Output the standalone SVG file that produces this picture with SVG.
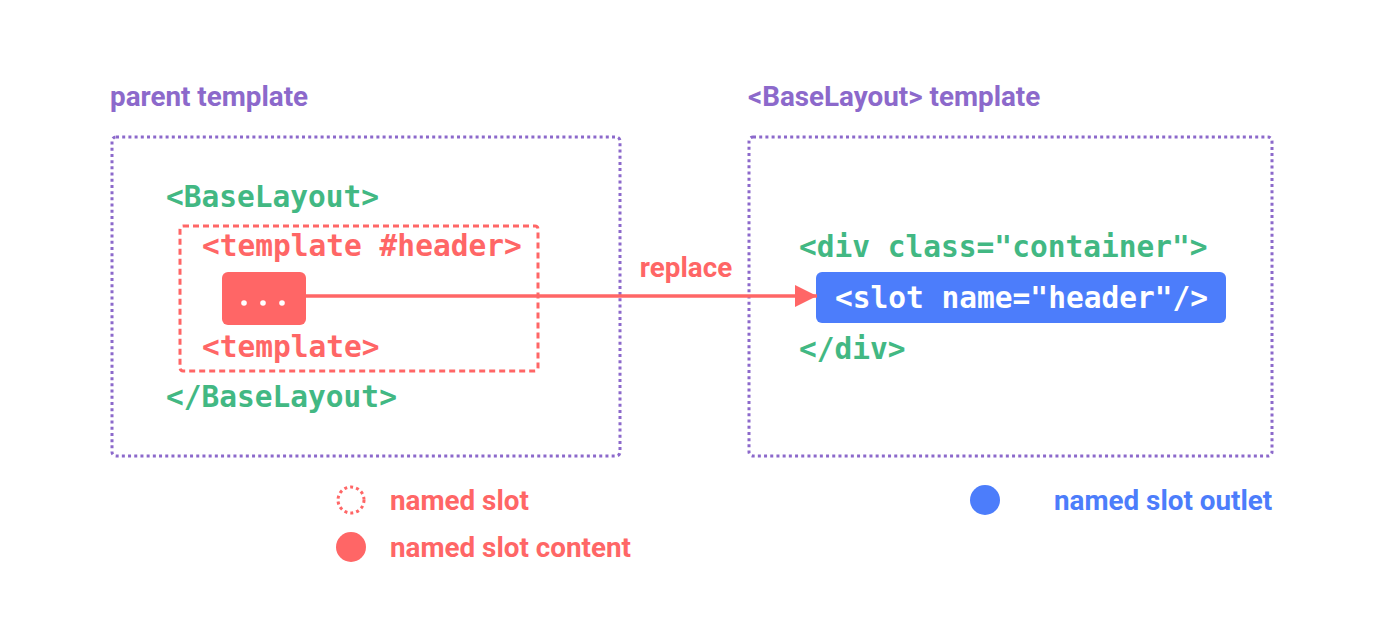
<svg xmlns="http://www.w3.org/2000/svg" width="1376" height="640" viewBox="0 0 1376 640">
<defs>
<style>
.title{font-family:Roboto,"Liberation Sans",sans-serif;font-weight:700;font-size:27.8px;fill:#8c69cb}
.lbl{font-family:Roboto,"Liberation Sans",sans-serif;font-weight:700;font-size:27.8px}
.code{font-family:"DejaVu Sans Mono","Liberation Mono",monospace;font-weight:700;font-size:29.5px}
.green{fill:#42b883}
.red{fill:#ff6666}
.white{fill:#ffffff}
.blue{fill:#4c7dfb}
.frame{fill:none;stroke:#8c69cb;stroke-width:3;stroke-dasharray:3 3.2}
.slotbox{fill:none;stroke:#ff6666;stroke-width:3;stroke-dasharray:6 4}
</style>
<marker id="arrow" markerWidth="24" markerHeight="22" refX="22" refY="11" orient="auto" markerUnits="userSpaceOnUse">
<path d="M0,0 L22,11 L0,22 Z" fill="#ff6666"/>
</marker>
</defs>
<rect width="1376" height="640" fill="#ffffff"/>

<g id="parent-template">
<text class="title" x="110" y="106">parent template</text>
<rect class="frame" x="112" y="137" width="508" height="319" rx="4"/>
<text class="code green" x="166" y="207">&lt;BaseLayout&gt;</text>
<text class="code green" x="166" y="407">&lt;/BaseLayout&gt;</text>
</g>

<g id="named-slot">
<rect class="slotbox" x="180" y="226" width="358" height="145" rx="3"/>
<text class="code red" x="202" y="256">&lt;template #header&gt;</text>
<text class="code red" x="202" y="357">&lt;template&gt;</text>
</g>

<g id="slot-content">
<rect x="222" y="272" width="84" height="53" rx="6" fill="#ff6666"/>
<circle cx="244" cy="303" r="2.8" fill="#fff"/>
<circle cx="263" cy="303" r="2.8" fill="#fff"/>
<circle cx="282" cy="303" r="2.8" fill="#fff"/>
</g>

<g id="baselayout-template">
<text class="title" x="748" y="106">&lt;BaseLayout&gt; template</text>
<rect class="frame" x="749" y="137" width="523" height="319" rx="4"/>
<text class="code green" x="799" y="257">&lt;div class="container"&gt;</text>
<text class="code green" x="799" y="359">&lt;/div&gt;</text>
</g>

<g id="slot-outlet">
<rect x="816" y="272" width="410" height="51" rx="6" fill="#4c7dfb"/>
<text class="code white" x="835" y="308">&lt;slot name="header"/&gt;</text>
</g>

<g id="connectors">
<line x1="306" y1="296" x2="817" y2="296" stroke="#ff6666" stroke-width="3.5" marker-end="url(#arrow)"/>
<text class="lbl red" x="686" y="277" text-anchor="middle">replace</text>
</g>

<g id="legend">
<circle cx="351" cy="500" r="13" fill="none" stroke="#ff6666" stroke-width="3" stroke-dasharray="3 3"/>
<text class="lbl red" x="390" y="510">named slot</text>
<circle cx="351" cy="547" r="15" fill="#ff6666"/>
<text class="lbl red" x="390" y="557">named slot content</text>
<circle cx="985" cy="500" r="15" fill="#4c7dfb"/>
<text class="lbl blue" x="1054" y="510">named slot outlet</text>
</g>
</svg>
